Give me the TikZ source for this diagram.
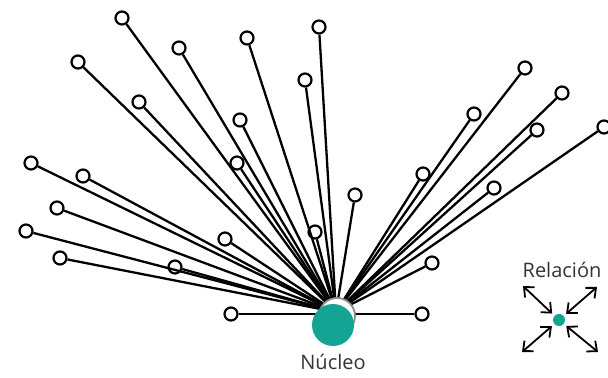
\documentclass[tikz,border=0pt]{standalone}
\usepackage{fontspec}
\setmainfont{Open Sans}
\usepackage{xcolor}
\usetikzlibrary{arrows.meta, positioning}
\definecolor{Teal}{RGB}{20,164,148}

\begin{document}
\begin{tikzpicture}[x=0.5pt,y=-0.5pt,>={Straight Barb[length=4pt,width=7pt]},
        every node/.style={font=\fontsize{10}{12}\selectfont,text=black!80},
        leaf/.style={circle,draw=black,line width=1.1pt,inner sep=0pt,minimum size=6.5pt},
        link/.style={line width=1.15pt,black},
        ring/.style={circle,draw=black!45,line width=0.9pt,fill=white,inner sep=0pt,minimum size=18pt},
        core/.style={circle,fill=Teal,inner sep=0pt,minimum size=21pt},]
    \useasboundingbox (0,0) rectangle (608,378);

      % left side
      \node[leaf] (n_1)  at (122,18)  {};
      \node[leaf] (n_2)  at (78,62)   {};
      \node[leaf] (n_3)  at (179,48)  {};
      \node[leaf] (n_4)  at (247,38)  {};
      \node[leaf] (n_5)  at (319,27)  {};
      \node[leaf] (n_6)  at (305,80)  {};
      \node[leaf] (n_7)  at (139,102) {};
      \node[leaf] (n_8)  at (240,120) {};
      \node[leaf] (n_9)  at (237,163) {};
      \node[leaf] (n_10) at (31,163)  {};
      \node[leaf] (n_11) at (83,176)  {};
      \node[leaf] (n_12) at (57,208)  {};
      \node[leaf] (n_13) at (26,231)  {};
      \node[leaf] (n_14) at (60,258)  {};
      \node[leaf] (n_15) at (175,267) {};
      \node[leaf] (n_16) at (225,239) {};
      \node[leaf] (n_17) at (231,314) {};
      \node[leaf] (n_18) at (315,232) {};
      \node[leaf] (n_19) at (355,195) {};
      % right side
      \node[leaf] (n_20) at (423,174) {};
      \node[leaf] (n_21) at (432,263) {};
      \node[leaf] (n_22) at (422,314) {};
      \node[leaf] (n_23) at (494,188) {};
      \node[leaf] (n_24) at (474,114) {};
      \node[leaf] (n_25) at (525,68)  {};
      \node[leaf] (n_26) at (562,93)  {};
      \node[leaf] (n_27) at (537,130) {};
      \node[leaf] (n_28) at (604,127) {};

      \coordinate (hub) at (336,312);
      \path[link] (hub) edge (n_1) edge (n_2) edge (n_3) edge (n_4) edge (n_5)
                        edge (n_6) edge (n_7) edge (n_8) edge (n_9) edge (n_10)
                        edge (n_11) edge (n_12) edge (n_13) edge (n_14) edge (n_15)
                        edge (n_16) edge (n_18) edge (n_19) edge (n_20)
                        edge (n_21) edge (n_23) edge (n_24) edge (n_25)
                        edge (n_26) edge (n_27) edge (n_28);
      \path[link] (n_17) edge (336,314) (n_22) edge (336,314);

      \node[ring] (hubring) at (337,316) {};
      \node[core] (nucleo) at (333,325) {};
      \node (nucleo label) at (333,362) {Núcleo};

      % legend
      \node[circle,fill=Teal,inner sep=0pt,minimum size=6pt] (rel) at (559,320) {};
      \node (rel label) at (562,270) {Relación};
      \coordinate (rel_nw) at (523,286);
      \coordinate (rel_ne) at (597,287);
      \coordinate (rel_sw) at (522,352);
      \coordinate (rel_se) at (598,352);
      \path[<->,line width=0.9pt,shorten <=1.5pt]
                (rel) edge (rel_nw) edge (rel_ne) edge (rel_sw) edge (rel_se);
    \end{tikzpicture}
\end{document}
